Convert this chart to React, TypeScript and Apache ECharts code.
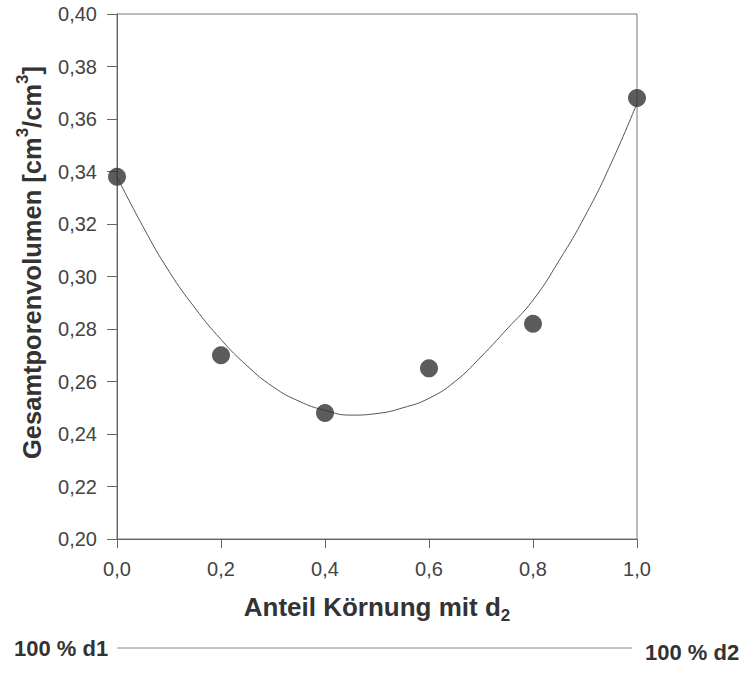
import React, { useEffect, useRef } from "react";
import * as echarts from "echarts";

const measuredX = [0.0, 0.2, 0.4, 0.6, 0.8, 1.0];
const measuredY = [0.338, 0.270, 0.248, 0.265, 0.282, 0.368];

const curveX = [0.0, 0.05, 0.1, 0.15, 0.2, 0.25, 0.3, 0.35, 0.4, 0.45, 0.5, 0.55, 0.6, 0.65, 0.7, 0.75, 0.8, 0.85, 0.9, 0.95, 1.0];
const curveY = [0.338, 0.319, 0.302, 0.288, 0.276, 0.266, 0.258, 0.2525, 0.249, 0.2472, 0.2478, 0.250, 0.2536, 0.260, 0.2694, 0.280, 0.291, 0.306, 0.323, 0.343, 0.366];

const yTicks = { min: 0.2, max: 0.4, interval: 0.02 };
const xTicks = { min: 0, max: 1, interval: 0.2 };

const FONT = "'Liberation Sans', Arial, sans-serif";
const TXT = "#333";

export default function App() {
  const ref = useRef<HTMLDivElement>(null);
  useEffect(() => {
    if (!ref.current) return;
    const chart = echarts.init(ref.current, undefined, { renderer: "svg" });
    const fmt = (v: number, d: number) => v.toFixed(d).replace(".", ",");
    chart.setOption({
      animation: false,
      backgroundColor: "#fff",
      textStyle: { fontFamily: FONT },
      grid: { left: 117, right: 106, top: 14, bottom: 152, show: true, borderColor: "#777", borderWidth: 1 },
      xAxis: {
        type: "value",
        min: xTicks.min,
        max: xTicks.max,
        interval: xTicks.interval,
        splitLine: { show: false },
        axisLine: { lineStyle: { color: "#666", width: 1 } },
        axisTick: { show: true, length: 9, lineStyle: { color: "#666" } },
        axisLabel: { margin: 20, fontSize: 20, color: "#444", fontFamily: FONT, formatter: (v: number) => fmt(v, 1) },
        name: "{b|Anteil Körnung mit d}{s|2}",
        nameLocation: "middle",
        nameGap: 55,
        nameTextStyle: {
          rich: {
            b: { fontSize: 26, fontWeight: "bold", color: TXT, fontFamily: FONT, lineHeight: 30, verticalAlign: "top" },
            s: { fontSize: 17, fontWeight: "bold", color: TXT, fontFamily: FONT, lineHeight: 30, verticalAlign: "bottom", padding: [15, 0, 0, 0] },
          },
        },
      },
      yAxis: {
        type: "value",
        min: yTicks.min,
        max: yTicks.max,
        interval: yTicks.interval,
        splitLine: { show: false },
        axisLine: { show: true, lineStyle: { color: "#666", width: 1 } },
        axisTick: { show: true, length: 10, lineStyle: { color: "#666" } },
        axisLabel: { margin: 20, fontSize: 20, color: "#444", fontFamily: FONT, formatter: (v: number) => fmt(v, 2) },
        name: "{b|Gesamtporenvolumen [cm}{s|3}{b|/cm}{s|3}{b|]}",
        nameLocation: "middle",
        nameGap: 72,
        nameRotate: 90,
        nameTextStyle: {
          padding: [0, 0, 0, 28],
          rich: {
            b: { fontSize: 25.5, fontWeight: "bold", color: TXT, fontFamily: FONT, lineHeight: 31, verticalAlign: "bottom" },
            s: { fontSize: 17, fontWeight: "bold", color: TXT, fontFamily: FONT, lineHeight: 31, verticalAlign: "top", padding: [0, 0, 13, 0] },
          },
        },
      },
      graphic: [
        { type: "text", left: 14, top: 637, style: { text: "100 % d1", fontSize: 22, fontWeight: "bold", fill: TXT, fontFamily: FONT } },
        { type: "line", shape: { x1: 117, y1: 648, x2: 632, y2: 648 }, style: { stroke: "#888", lineWidth: 1 } },
        { type: "text", left: 645, top: 641, style: { text: "100 % d2", fontSize: 22, fontWeight: "bold", fill: TXT, fontFamily: FONT } },
      ],
      series: [
        {
          type: "line",
          data: curveX.map((x, i) => [x, curveY[i]]),
          smooth: true,
          showSymbol: false,
          symbol: "none",
          lineStyle: { color: "#555", width: 1 },
          z: 2,
        },
        {
          type: "scatter",
          data: measuredX.map((x, i) => [x, measuredY[i]]),
          symbol: "circle",
          symbolSize: 18,
          itemStyle: { color: "#333" },
          z: 3,
        },
      ],
    });
    return () => chart.dispose();
  }, []);
  return <div ref={ref} style={{ position: "fixed", left: 0, top: 0, width: 743, height: 691 }} />;
}
